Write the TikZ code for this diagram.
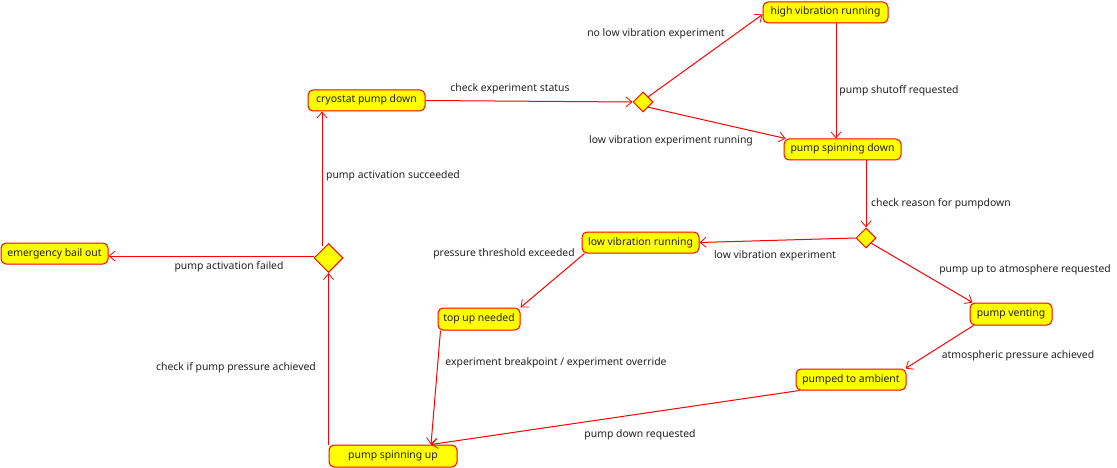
\documentclass[tikz,border=0pt]{standalone}
\usepackage{fontspec}
\setmainfont{Noto Sans}
\usetikzlibrary{shapes.geometric,arrows.meta,calc}
\definecolor{stfill}{HTML}{FFFF00}
\definecolor{stline}{HTML}{FF0000}
\definecolor{txt}{HTML}{222222}
\tikzset{
  state/.style={draw=stline, fill=stfill, rounded corners=5pt, line width=1pt,
    inner sep=0pt, anchor=center, text=txt, font=\fontsize{10.4}{12}\selectfont,
    text height=7pt, text depth=2pt},
  choice/.style={draw=stline, fill=stfill, diamond, line width=1pt, inner sep=0pt,
    minimum width=20pt, minimum height=20pt},
  bigchoice/.style={choice, minimum width=29pt, minimum height=29pt},
  lbl/.style={text=txt, font=\fontsize{10.4}{12}\selectfont, inner sep=0pt, yshift=-1pt},
  trans/.style={draw=stline, line width=1pt, -{Straight Barb[length=6pt,width=10pt,line width=0.8pt]}}
}
\begin{document}
\begin{tikzpicture}[x=1pt,y=-1pt]
\useasboundingbox (0,0) rectangle (1117,468);
% states
\node[state, minimum width=125pt, minimum height=21pt] (hvr) at (825.5,12.5) {high vibration running};
\node[state, minimum width=117pt, minimum height=21pt] (cpd) at (366.5,100.5) {cryostat pump down};
\node[state, minimum width=117pt, minimum height=21pt] (psd) at (842.5,149.5) {pump spinning down};
\node[state, minimum width=117pt, minimum height=21pt] (lvr) at (640.5,242.5) {low vibration running};
\node[state, minimum width=107pt, minimum height=21pt] (ebo) at (54.5,253.5) {emergency bail out};
\node[state, minimum width=82pt, minimum height=22pt] (tun) at (479,319) {top up needed};
\node[state, minimum width=82pt, minimum height=22pt] (pv) at (1011,314) {pump venting};
\node[state, minimum width=110pt, minimum height=21pt] (pta) at (851,379.5) {pumped to ambient};
\node[state, minimum width=128pt, minimum height=22pt] (psu) at (393,456) {pump spinning up};
% choices
\node[choice] (d1) at (643,102) {};
\node[choice] (d2) at (866,238) {};
\node[bigchoice] (d3) at (328.5,258) {};
% transitions
\draw[trans] (cpd.east) -- (d1.west);
\draw[trans] (d1.north east) -- ($(hvr.west)+(0,2)$);
\draw[trans] (d1.south east) -- ($(psd.north west)+(2,0)$);
\coordinate (hvrb) at ($(hvr.south)+(10.5,0)$);
\draw[trans] (hvrb) -- (hvrb |- psd.north);
\draw[trans] (psd.south -| d2) -- (d2.north);
\draw[trans] (d2.west) -- (lvr.east);
\draw[trans] (d2.south east) -- ($(pv.north west)+(3,0)$);
\draw[trans] ($(lvr.south west)+(3,0)$) -- (tun.north east);
\draw[trans] ($(pv.south west)+(4,0)$) -- ($(pta.north east)+(-1,0)$);
\coordinate (psuin) at ($(psu.north)+(38,0)$);
\draw[trans] ($(tun.south west)+(3,0)$) -- (psuin);
\draw[trans] ($(pta.south west)+(4,0)$) -- (psuin);
\draw[trans] (d3.south |- psu.north) -- (d3.south);
\coordinate (d3up) at ($(d3.north)+(-6.5,3)$);
\draw[trans] (d3up) -- (d3up |- cpd.south);
\coordinate (d3left) at ($(d3.west)+(0,-2)$);
\draw[trans] (d3left) -- (d3left -| ebo.east);
% labels
\node[lbl] (l1) at (510,88) {check experiment status};
\node[lbl] (l2) at (656,33) {no low vibration experiment};
\node[lbl] (l3) at (671,140) {low vibration experiment running};
\node[lbl] (l4) at (899,90) {pump shutoff requested};
\node[lbl] (l5) at (941,203) {check reason for pumpdown};
\node[lbl] (l6) at (775,255) {low vibration experiment};
\node[lbl] (l7) at (1025,269) {pump up to atmosphere requested};
\node[lbl] (l8) at (504,253) {pressure threshold exceeded};
\node[lbl] (l9) at (1018,355) {atmospheric pressure achieved};
\node[lbl] (l10) at (556,362) {experiment breakpoint / experiment override};
\node[lbl] (l11) at (640,434) {pump down requested};
\node[lbl] (l12) at (236,367) {check if pump pressure achieved};
\node[lbl] (l13) at (393,175) {pump activation succeeded};
\node[lbl] (l14) at (229,266) {pump activation failed};
\end{tikzpicture}
\end{document}
